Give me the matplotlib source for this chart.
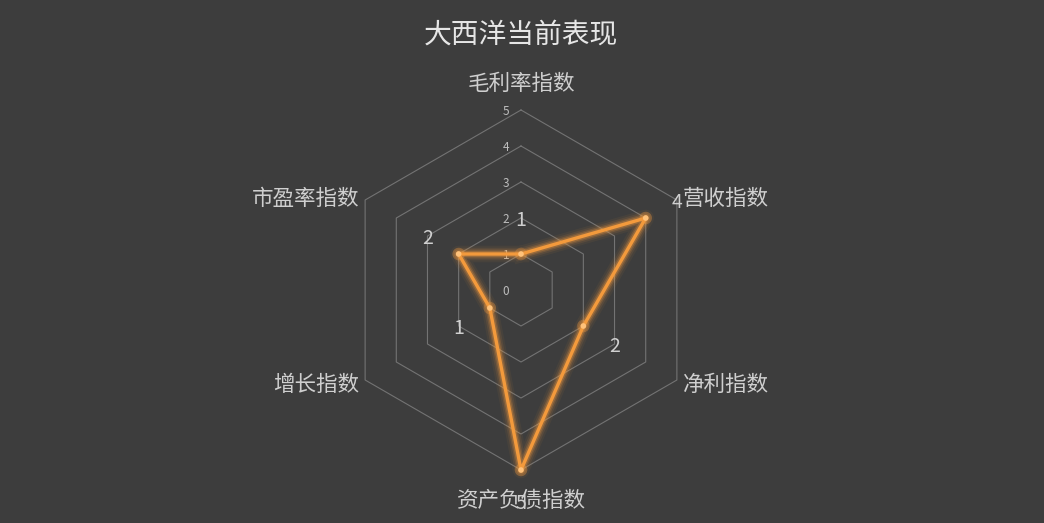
import numpy as np
import matplotlib
matplotlib.use("Agg")
import matplotlib.pyplot as plt
import matplotlib.patheffects as pe

plt.rcParams['font.family'] = ['Noto Sans CJK SC', 'DejaVu Sans']

title = "大西洋当前表现"
indicators = ["毛利率指数", "营收指数", "净利指数", "资产负债指数", "增长指数", "市盈率指数"]
values = [1, 4, 2, 5, 1, 2]
rings = [1, 2, 3, 4, 5]
tick_labels = ["0", "1", "2", "3", "4", "5"]
rmax = 5

BG = "#3d3d3d"
LINE = "#f39a3c"
GRID = "#737373"
TXT = "#cfcfcf"

W, H, DPI = 1044, 523, 100
fig = plt.figure(figsize=(W / DPI, H / DPI), dpi=DPI, facecolor=BG)
ax = fig.add_axes([0, 0, 1, 1])
ax.set_facecolor(BG)
ppu = 36.0  # pixels per unit
cx, cy = 521, 290
ax.set_xlim(-cx / ppu, (W - cx) / ppu)
ax.set_ylim(-(H - cy) / ppu, cy / ppu)
ax.axis('off')

n = len(indicators)
angles = np.deg2rad(90 - 360.0 / n * np.arange(n))
ux, uy = np.cos(angles), np.sin(angles)
tb = -0.07  # text baseline bias

# grid hexagons
for r in rings:
    xs = np.append(r * ux, r * ux[0])
    ys = np.append(r * uy, r * uy[0])
    ax.plot(xs, ys, color=GRID, lw=0.8, zorder=1)

# tick labels along top axis
for i, t in enumerate(tick_labels):
    ax.text(-0.32, i * uy[0] + tb * 0.5, t, ha='right', va='center', fontsize=8.5,
            color="#bdbdbd", zorder=2)

# series
v = np.array(values, dtype=float)
px, py = v * ux, v * uy
xs = np.append(px, px[0])
ys = np.append(py, py[0])
glow = [pe.Stroke(linewidth=w, foreground=LINE, alpha=a) for w, a in
        [(12, 0.06), (9, 0.10), (6.5, 0.18), (4.5, 0.3)]] + [pe.Normal()]
ax.plot(xs, ys, color=LINE, lw=2.4, zorder=5, solid_joinstyle='round',
        path_effects=glow)
ax.scatter(px, py, s=16, color="#ffc27a", zorder=6, edgecolors='none',
           path_effects=[pe.Stroke(linewidth=5, foreground=LINE, alpha=0.3), pe.Normal()])

# data labels
for i, val in enumerate(values):
    rr = min(val + 1, 5.85)
    ax.text(rr * ux[i], rr * uy[i] + tb, str(val), ha='center', va='center',
            fontsize=14, color=TXT, zorder=7)

# indicator labels
for i, name in enumerate(indicators):
    x, y = rmax * ux[i], rmax * uy[i]
    if abs(ux[i]) < 1e-6:
        off = 0.78 if uy[i] > 0 else -0.78
        ax.text(0, y + off + tb, name, ha='center', va='center', fontsize=15.5, color=TXT)
    else:
        dy = 0.1 if uy[i] > 0 else -0.08
        if ux[i] > 0:
            ax.text(x + 0.17, y + dy + tb, name, ha='left', va='center', fontsize=15.5, color=TXT)
        else:
            ax.text(x - 0.17, y + dy + tb, name, ha='right', va='center', fontsize=15.5, color=TXT)

fig.text(cx / W, 1 - 35 / H, title, ha='center', va='center', fontsize=20,
         color="#e6e6e6")

fig.savefig("out.png", dpi=DPI, facecolor=BG)
